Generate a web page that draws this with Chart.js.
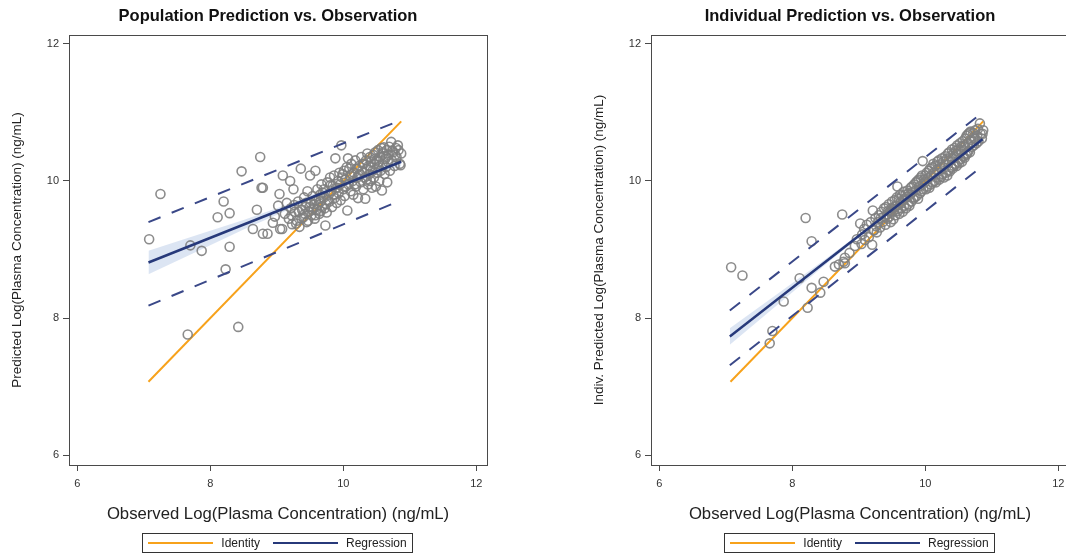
<!DOCTYPE html>
<html>
<head>
<meta charset="utf-8">
<script src="https://cdn.jsdelivr.net/npm/chart.js@4.4.1/dist/chart.umd.min.js"></script>
<style>
  html, body { margin: 0; padding: 0; background: #fff; overflow: hidden; }
  #page { position: relative; width: 1066px; height: 553px; overflow: hidden; }
  .panel { position: absolute; top: 0; width: 536px; height: 553px; }
  .panel canvas { position: absolute; left: 0; top: 0; }
  .legend {
    position: absolute; left: 142px; top: 533px; width: 271px; height: 20px;
    box-sizing: border-box; border: 1px solid #333;
    display: flex; align-items: center; justify-content: center;
    font-family: "Liberation Sans", Arial, sans-serif; font-size: 12px; color: #222;
  }
  .legend .sw { display: inline-block; width: 65px; height: 2px; margin-right: 8px; }
  .legend .lbl { margin-right: 13px; }
  .legend .lbl:last-child { margin-right: 0; }
</style>
</head>
<body>
<div id="page">
  <div class="panel" style="left:0px">
    <canvas id="popChart" width="536" height="553"></canvas>
    <div class="legend"><span class="sw" style="background:#f7a21b"></span><span class="lbl">Identity</span><span class="sw" style="background:#27397a"></span><span class="lbl">Regression</span></div>
  </div>
  <div class="panel" style="left:582px">
    <canvas id="indChart" width="536" height="553"></canvas>
    <div class="legend"><span class="sw" style="background:#f7a21b"></span><span class="lbl">Identity</span><span class="sw" style="background:#27397a"></span><span class="lbl">Regression</span></div>
  </div>
</div>
<script>
// Observed log plasma concentrations (shared by both panels)
const obs = [
  7.08, 7.25, 7.66, 7.70, 7.87, 8.11, 8.20, 8.23, 8.29, 8.29,
  8.42, 8.47, 8.64, 8.70, 8.75, 8.77, 8.79, 8.79, 8.86, 8.94,
  8.97,
  9.02, 9.04, 9.05, 9.08, 9.09, 9.12, 9.15, 9.18, 9.20, 9.21,
  9.23, 9.25, 9.27, 9.30, 9.32, 9.34, 9.36, 9.38, 9.40, 9.41,
  9.43, 9.45, 9.46, 9.48, 9.50, 9.51, 9.52, 9.54, 9.55, 9.57,
  9.58, 9.59, 9.60, 9.61, 9.62, 9.64, 9.65, 9.66, 9.67, 9.68,
  9.70, 9.71, 9.73, 9.74, 9.75, 9.76, 9.78, 9.79, 9.80, 9.82,
  9.83, 9.84, 9.86, 9.87, 9.88, 9.89, 9.90, 9.92, 9.93, 9.94,
  9.95, 9.96, 9.97, 9.98,
  10.00, 10.01, 10.02, 10.03, 10.05, 10.06, 10.07, 10.08, 10.10, 10.11,
  10.12, 10.14, 10.15, 10.16, 10.18, 10.19, 10.20, 10.21, 10.22, 10.24,
  10.25, 10.26, 10.27, 10.28, 10.30, 10.31, 10.32, 10.33, 10.34, 10.35,
  10.36, 10.37, 10.38, 10.39, 10.40, 10.41, 10.42, 10.43, 10.44, 10.45,
  10.46, 10.47, 10.48, 10.49, 10.50, 10.51, 10.52, 10.53, 10.54, 10.55,
  10.56, 10.57, 10.58, 10.59, 10.60, 10.61, 10.62, 10.63, 10.64, 10.65,
  10.66, 10.67, 10.68, 10.70, 10.72, 10.73, 10.75, 10.77, 10.79, 10.80,
  10.83, 10.82, 10.85, 10.86, 10.87,
  9.22, 9.26, 9.29, 9.33, 9.37, 9.42, 9.44, 9.47, 9.49, 9.53,
  9.56, 9.58, 9.63, 9.66, 9.69, 9.72, 9.77, 9.81, 9.85, 9.91,
  9.99, 10.04, 10.09, 10.13, 10.17, 10.23, 10.29, 10.35, 10.41, 10.47,
  10.53, 10.59, 10.64, 10.69, 10.74, 10.78
];

// Population (PRED) predictions
const popPred = [
  9.15, 9.81, 7.76, 9.06, 8.98, 9.47, 9.70, 8.71, 9.53, 9.04,
  7.87, 10.14, 9.30, 9.58, 10.35, 9.90, 9.90, 9.23, 9.23, 9.39,
  9.48,
  9.64, 9.81, 9.30, 9.30, 10.08, 9.52, 9.68, 9.45, 10.00, 9.60,
  9.37, 9.88, 9.55, 9.42, 9.70, 9.33, 10.18, 9.58, 9.47, 9.76,
  9.62, 9.40, 9.85, 9.55, 10.08, 9.68, 9.50, 9.78, 9.60, 9.45,
  10.15, 9.72, 9.58, 9.88, 9.65, 9.52, 9.80, 9.70, 9.95, 9.62,
  9.75, 9.88, 9.35, 9.66, 9.54, 9.98, 9.80, 9.70, 10.05, 9.85,
  9.62, 9.93, 10.08, 9.75, 10.33, 9.90, 9.68, 10.00, 9.82, 10.12,
  9.95, 9.72, 10.52, 10.05,
  9.88, 10.15, 9.78, 10.02, 10.20, 9.57, 10.33, 9.95, 10.08, 9.85,
  10.25, 10.00, 9.80, 10.12, 10.30, 9.92, 10.18, 10.05, 9.75, 10.22,
  10.10, 9.98, 10.35, 10.15, 9.88, 10.25, 10.05, 9.74, 10.30, 10.18,
  10.40, 9.95, 10.22, 10.10, 10.35, 10.00, 10.28, 9.90, 10.15, 10.38,
  10.05, 10.25, 10.42, 9.92, 10.30, 10.12, 10.45, 10.20, 10.00, 10.35,
  10.15, 10.48, 9.86, 10.25, 10.40, 10.49, 10.10, 10.32, 10.20, 10.45,
  9.98, 10.28, 10.38, 10.15, 10.57, 10.30, 10.42, 10.22, 10.48, 10.35,
  10.45, 10.52, 10.25, 10.23, 10.40,
  9.50, 9.65, 9.38, 9.55, 9.45, 9.52, 9.68, 9.42, 9.62, 9.58,
  9.66, 9.50, 9.74, 9.56, 9.83, 9.60, 9.72, 9.94, 9.80, 9.90,
  10.10, 9.92, 10.18, 10.10, 9.95, 10.08, 10.25, 10.02, 10.20, 10.32,
  10.28, 10.42, 10.35, 10.50, 10.44, 10.38
];

// Individual (IPRED) predictions
const indPred = [
  8.74, 8.62, 7.63, 7.81, 8.24, 8.58, 9.46, 8.15, 9.12, 8.44,
  8.37, 8.53, 8.75, 8.78, 9.51, 8.82, 8.88, 8.80, 8.95, 9.05,
  9.15,
  9.38, 9.08, 9.22, 9.30, 9.14, 9.36, 9.18, 9.40, 9.07, 9.57,
  9.28, 9.46, 9.25, 9.50, 9.32, 9.55, 9.40, 9.60, 9.36, 9.62,
  9.45, 9.66, 9.48, 9.40, 9.70, 9.55, 9.44, 9.72, 9.50, 9.76,
  9.92, 9.56, 9.74, 9.52, 9.80, 9.60, 9.78, 9.55, 9.84, 9.64,
  9.80, 9.60, 9.86, 9.66, 9.82, 9.64, 9.90, 9.70, 9.92, 9.74,
  9.95, 9.76, 9.98, 9.78, 10.00, 9.74, 10.02, 9.82, 10.05, 9.85,
  10.08, 10.29, 9.88, 10.02,
  10.08, 9.88, 10.12, 9.92, 10.15, 9.90, 10.18, 9.95, 10.20, 9.98,
  10.25, 10.00, 10.22, 9.98, 10.28, 10.05, 10.30, 10.02, 10.24, 10.06,
  10.33, 10.10, 10.28, 10.05, 10.36, 10.12, 10.32, 10.08, 10.40, 10.16,
  10.42, 10.14, 10.36, 10.20, 10.46, 10.18, 10.40, 10.22, 10.48, 10.25,
  10.44, 10.22, 10.52, 10.28, 10.46, 10.26, 10.55, 10.32, 10.50, 10.28,
  10.58, 10.36, 10.52, 10.34, 10.62, 10.38, 10.66, 10.40, 10.68, 10.44,
  10.70, 10.42, 10.72, 10.50, 10.70, 10.52, 10.74, 10.55, 10.76, 10.58,
  10.69, 10.84, 10.62, 10.69, 10.74,
  9.28, 9.34, 9.40, 9.46, 9.47, 9.51, 9.56, 9.55, 9.60, 9.62,
  9.64, 9.59, 9.69, 9.72, 9.74, 9.77, 9.80, 9.84, 9.86, 9.92,
  9.98, 10.04, 10.08, 10.12, 10.16, 10.19, 10.24, 10.30, 10.33, 10.40,
  10.44, 10.50, 10.55, 10.60, 10.62, 10.66
];

// Line of identity (x = y)
const identityX = [7.07, 10.87];

// Population panel: regression line, 95% prediction limits, confidence band
const popLineX = [7.07, 10.87];
const popReg   = [8.81, 10.28];
const popUpper = [9.40, 10.89];
const popLower = [8.18, 9.72];
const popBandX  = [7.07, 7.8, 8.5, 9.2, 9.8, 10.4, 10.87];
const popBandLo = [8.64, 8.97, 9.29, 9.59, 9.84, 10.06, 10.22];
const popBandHi = [8.98, 9.21, 9.43, 9.67, 9.90, 10.14, 10.34];

// Individual panel: regression line, 95% prediction limits, confidence band
const indLineX = [7.06, 10.86];
const indReg   = [7.73, 10.61];
const indUpper = [8.11, 11.00];
const indLower = [7.31, 10.22];
const indBandX  = [7.06, 7.8, 8.5, 9.2, 9.8, 10.4, 10.86];
const indBandLo = [7.61, 8.21, 8.78, 9.33, 9.79, 10.24, 10.58];
const indBandHi = [7.85, 8.37, 8.86, 9.37, 9.83, 10.28, 10.64];

// Axis tick labels
const axisTicks = [6, 8, 10, 12];

const FONT = '"Liberation Sans", Arial, Helvetica, sans-serif';
const AXIS_COLOR = '#4a4a4a';

const pts = (xs, ys) => xs.map((x, i) => ({ x: x, y: ys[i] }));

// Draws the top edge of the plot frame
const framePlugin = {
  id: 'frame',
  afterDraw(chart) {
    const { ctx, chartArea: a } = chart;
    ctx.save();
    ctx.strokeStyle = AXIS_COLOR;
    ctx.lineWidth = 1;
    ctx.beginPath();
    ctx.moveTo(a.left, a.top + 0.5);
    ctx.lineTo(a.right + 0.5, a.top + 0.5);
    ctx.stroke();
    ctx.restore();
  }
};

function lineSet(xs, ys, color, width, dash, order) {
  return {
    type: 'scatter', data: pts(xs, ys), showLine: true, pointRadius: 0,
    borderColor: color, borderWidth: width, borderDash: dash || [],
    backgroundColor: color, fill: false, order: order
  };
}

function makePanel(id, title, yTitle, yVals, lineX, reg, upper, lower, bandX, bandLo, bandHi) {
  const datasets = [
    { type: 'scatter', data: pts(bandX, bandLo), showLine: true, pointRadius: 0,
      borderWidth: 0, borderColor: 'rgba(0,0,0,0)', fill: false, order: 20 },
    { type: 'scatter', data: pts(bandX, bandHi), showLine: true, pointRadius: 0,
      borderWidth: 0, borderColor: 'rgba(0,0,0,0)', fill: '-1',
      backgroundColor: 'rgba(205,218,238,0.7)', order: 19 },
    lineSet(identityX, identityX, '#f7a21b', 2, null, 10),
    { type: 'scatter', data: pts(obs, yVals), pointStyle: 'circle', pointRadius: 4.5,
      pointBorderWidth: 1.6, borderColor: 'rgba(128,128,128,0.9)',
      backgroundColor: 'rgba(0,0,0,0)', order: 8 },
    lineSet(lineX, upper, '#3a4888', 2, [13, 12], 4),
    lineSet(lineX, lower, '#3a4888', 2, [13, 12], 4),
    lineSet(lineX, reg, '#27397a', 2.5, null, 2)
  ];

  const axis = (text, size, isX) => ({
    type: 'linear',
    position: isX ? 'bottom' : 'left',
    min: isX ? 5.875 : 5.855,
    max: isX ? 12.16 : 12.13,
    afterBuildTicks: s => { s.ticks = axisTicks.map(v => ({ value: v })); },
    afterFit: s => { if (isX) { s.height = 60; } else { s.width = 69; } },
    grid: { drawOnChartArea: false, drawTicks: true, tickLength: 6, color: AXIS_COLOR, tickColor: AXIS_COLOR },
    border: { display: true, color: AXIS_COLOR, width: 1 },
    ticks: { font: { family: FONT, size: 11 }, color: '#333', padding: isX ? 6 : 4,
             maxRotation: 0, callback: v => String(v) },
    title: { display: true, text: text, color: '#222',
             font: { family: FONT, size: size },
             padding: isX ? { top: 0, bottom: 1 } : { top: 9, bottom: 0 } }
  });

  new Chart(document.getElementById(id), {
    type: 'scatter',
    data: { datasets: datasets },
    plugins: [framePlugin],
    options: {
      responsive: false,
      animation: false,
      devicePixelRatio: 1,
      layout: { padding: { left: 0, right: 0, top: 0, bottom: 28 } },
      plugins: {
        legend: { display: false },
        tooltip: { enabled: false },
        title: { display: true, text: title, color: '#111',
                 font: { family: FONT, size: 16.5, weight: 'bold' },
                 padding: { top: 7, bottom: 8.2 } }
      },
      scales: {
        x: axis('Observed Log(Plasma Concentration) (ng/mL)', 16.7, true),
        y: axis(yTitle, 13.5, false),
        // right-hand frame edge; reserves the margin to the right of the plot
        yRight: {
          type: 'linear', position: 'right', min: 0, max: 1,
          afterFit: s => { s.width = 49; },
          grid: { display: false, drawTicks: false },
          border: { display: true, color: AXIS_COLOR, width: 1 },
          ticks: { display: false }
        }
      }
    }
  });
}

makePanel('popChart', 'Population Prediction vs. Observation',
  'Predicted Log(Plasma Concentration) (ng/mL)', popPred,
  popLineX, popReg, popUpper, popLower, popBandX, popBandLo, popBandHi);

makePanel('indChart', 'Individual Prediction vs. Observation',
  'Indiv. Predicted Log(Plasma Concentration) (ng/mL)', indPred,
  indLineX, indReg, indUpper, indLower, indBandX, indBandLo, indBandHi);
</script>
</body>
</html>
